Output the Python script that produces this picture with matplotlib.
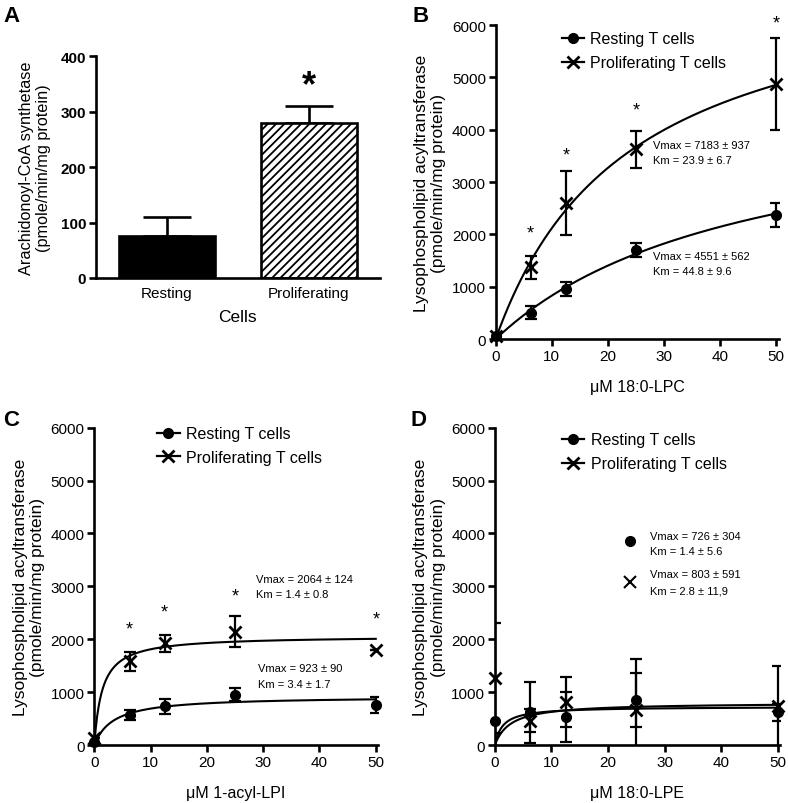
import numpy as np
import matplotlib
matplotlib.use("Agg")
import matplotlib.pyplot as plt
from matplotlib.lines import Line2D

plt.rcParams["font.family"] = ["Liberation Sans", "DejaVu Sans"]
plt.rcParams["hatch.linewidth"] = 1.3

# ---- Panel A data ----
cells = ["Resting", "Proliferating"]
acs_mean = [75, 280]
acs_sem = [35, 30]

# ---- Kinetic panels: substrate concentrations ----
conc = [0, 6.25, 12.5, 25, 50]

# B: 18:0-LPC
lpc_rest = [50, 500, 960, 1700, 2380]
lpc_rest_err = [0, 125, 140, 130, 230]
lpc_prol = [50, 1370, 2600, 3630, 4870]
lpc_prol_err = [0, 215, 610, 355, 880]
lpc_star_y = [2030, 3520, 4380, 6040]
lpc_fit = {"rest": (4551, 44.8), "prol": (7183, 23.9)}

# C: 1-acyl-LPI
lpi_rest = [50, 570, 730, 950, 760]
lpi_rest_err = [0, 100, 135, 120, 145]
lpi_prol = [130, 1580, 1920, 2140, 1800]
lpi_prol_err = [0, 180, 155, 295, 0]
lpi_star_y = [2200, 2520, 2810, 2390]
lpi_fit = {"rest": (923, 3.4), "prol": (2064, 1.4)}

# D: 18:0-LPE
lpe_rest = [457, 616, 533, 857, 616]
lpe_rest_err = [0, 580, 476, 510, 160]
lpe_prol = [1270, 457, 819, 660, 743]
lpe_prol_err = [1040, 220, 470, 960, 760]
lpe_fit = {"rest": (726, 1.4), "prol": (803, 2.8)}

LW = 1.9


def style_axes(ax, bold=False):
    for s in ["top", "right"]:
        ax.spines[s].set_visible(False)
    for s in ["left", "bottom"]:
        ax.spines[s].set_linewidth(LW)
    ax.tick_params(direction="out", width=LW, length=5, labelsize=11, pad=2)
    if bold:
        for lab in ax.get_yticklabels():
            lab.set_fontweight("bold")


def mm(vmax, km, x):
    return vmax * x / (km + x)


def kinetic_panel(ax, rest, rest_err, prol, prol_err, fit, xlabel, legend_anchor):
    ax.set_xlim(0, 50.4)
    ax.set_ylim(0, 6000)
    xs = np.linspace(0, 50, 400)
    ax.plot(xs, mm(*fit["rest"], xs), color="black", lw=1.5)
    ax.plot(xs, mm(*fit["prol"], xs), color="black", lw=1.5)
    for y, e in [(rest, rest_err), (prol, prol_err)]:
        ax.errorbar(conc, y, yerr=e, fmt="none", ecolor="black",
                    elinewidth=1.6, capsize=4.5, capthick=1.6)
    ax.plot(conc, rest, "o", color="black", ms=7, clip_on=False, zorder=5)
    ax.plot(conc, prol, "x", color="black", ms=8, mew=2, clip_on=False, zorder=5)
    ax.set_xticks([0, 10, 20, 30, 40, 50])
    ax.set_yticks(range(0, 6001, 1000))
    ax.set_xlabel(xlabel, fontsize=11.5, labelpad=12)
    ax.set_ylabel("Lysophospholipid acyltransferase\n(pmole/min/mg protein)",
                  fontsize=12.5, labelpad=4)
    handles = [Line2D([], [], color="black", lw=1.6, marker="o", ms=7),
               Line2D([], [], color="black", lw=1.6, marker="x", ms=8, mew=2)]
    ax.legend(handles, ["Resting T cells", "Proliferating T cells"],
              loc="upper left", bbox_to_anchor=legend_anchor, frameon=False,
              fontsize=11.5, handlelength=1.4, handletextpad=0.4,
              labelspacing=0.55, borderpad=0, borderaxespad=0)
    style_axes(ax)


fig = plt.figure(figsize=(7.88, 8.04), dpi=100)

# ---- A ----
axA = fig.add_axes([0.1218, 0.653, 0.360, 0.276])
axA.bar(0, acs_mean[0], width=0.68, color="black", edgecolor="black", lw=LW, zorder=2)
axA.bar(1, acs_mean[1], width=0.68, color="white", edgecolor="black", lw=LW,
        hatch="////", zorder=2)
axA.errorbar([0, 1], acs_mean, yerr=[[0, 0], acs_sem], fmt="none", ecolor="black",
             elinewidth=LW, capsize=17, capthick=LW, zorder=1)
axA.text(1, 347, "*", fontsize=26, fontweight="bold", ha="center", va="center")
axA.set_xlim(-0.5, 1.5)
axA.set_ylim(0, 400)
axA.set_yticks([0, 100, 200, 300, 400])
axA.set_xticks([0, 1])
axA.set_xticklabels(cells, fontsize=11)
axA.set_xlabel("Cells", fontsize=12.5, labelpad=6)
axA.set_ylabel("Arachidonoyl-CoA synthetase\n(pmole/min/mg protein)", fontsize=11.7, labelpad=7)
style_axes(axA, bold=True)
axA.tick_params(axis="x", length=0, pad=6)

# ---- B ----
axB = fig.add_axes([0.629, 0.577, 0.359, 0.3905])
kinetic_panel(axB, lpc_rest, lpc_rest_err, lpc_prol, lpc_prol_err, lpc_fit,
              "μM 18:0-LPC", (0.233, 0.98))
for x, y in zip(conc[1:], lpc_star_y):
    axB.text(x, y, "*", fontsize=13, ha="center", va="center", clip_on=False)
axB.text(28.0, 3707, "Vmax = 7183 ± 937", fontsize=8, va="center")
axB.text(28.0, 3420, "Km = 23.9 ± 6.7", fontsize=8, va="center")
axB.text(28.0, 1586, "Vmax = 4551 ± 562", fontsize=8, va="center")
axB.text(28.0, 1299, "Km = 44.8 ± 9.6", fontsize=8, va="center")

# ---- C ----
axC = fig.add_axes([0.1197, 0.0721, 0.360, 0.3947])
kinetic_panel(axC, lpi_rest, lpi_rest_err, lpi_prol, lpi_prol_err, lpi_fit,
              "μM 1-acyl-LPI", (0.222, 1.005))
for x, y in zip(conc[1:], lpi_star_y):
    axC.text(x, y, "*", fontsize=13, ha="center", va="center", clip_on=False)
axC.text(28.7, 3139, "Vmax = 2064 ± 124", fontsize=8, va="center")
axC.text(28.7, 2855, "Km = 1.4 ± 0.8", fontsize=8, va="center")
axC.text(29.0, 1456, "Vmax = 923 ± 90", fontsize=8, va="center")
axC.text(29.0, 1153, "Km = 3.4 ± 1.7", fontsize=8, va="center")

# ---- D ----
axD = fig.add_axes([0.628, 0.0721, 0.362, 0.3947])
kinetic_panel(axD, lpe_rest, lpe_rest_err, lpe_prol, lpe_prol_err, lpe_fit,
              "μM 18:0-LPE", (0.235, 0.985))
axD.plot([23.8], [3857], "o", color="black", ms=7)
axD.plot([23.8], [3082], "x", color="black", ms=8, mew=1.5)
axD.text(27.4, 3958, "Vmax = 726 ± 304", fontsize=8, va="center")
axD.text(27.4, 3668, "Km = 1.4 ± 5.6", fontsize=8, va="center")
axD.text(27.4, 3233, "Vmax = 803 ± 591", fontsize=8, va="center")
axD.text(27.4, 2930, "Km = 2.8 ± 11,9", fontsize=8, va="center")

# ---- panel letters ----
for lbl, x, y in [("A", 3, 6), ("B", 412, 6), ("C", 3, 410), ("D", 411, 410)]:
    fig.text(x / 788, 1 - y / 804, lbl, fontsize=16, fontweight="bold",
             ha="left", va="top")

fig.savefig("out.png", dpi=100)
